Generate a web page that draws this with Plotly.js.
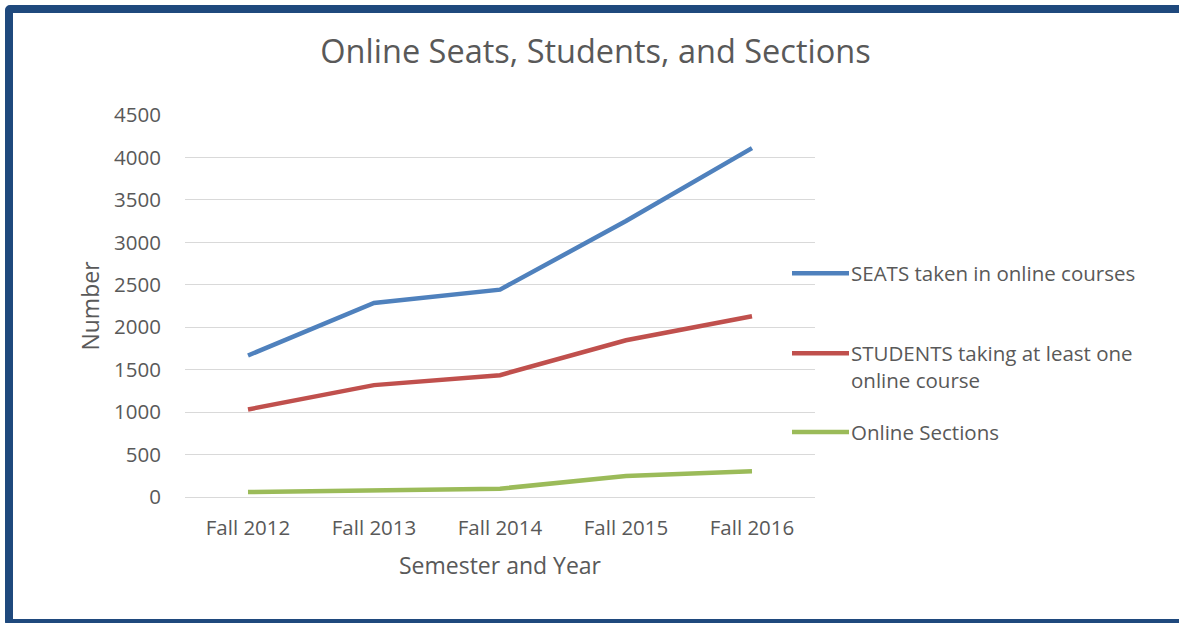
<!DOCTYPE html>
<html>
<head>
<meta charset="utf-8">
<script src="https://cdn.plot.ly/plotly-3.0.1.min.js"></script>
<style>
  html, body { margin:0; padding:0; width:1179px; height:623px; overflow:hidden; background:#fff; }
  #chart { position:absolute; left:0; top:0; width:1179px; height:623px; }
  #frame { position:absolute; left:5px; top:5px; width:1190px; height:606px;
           border:8px solid #1F497D; border-radius:5px; pointer-events:none; }
</style>
</head>
<body>
<div id="chart"></div>
<div id="frame"></div>
<script>
const categories = ["Fall 2012", "Fall 2013", "Fall 2014", "Fall 2015", "Fall 2016"];
const seats    = [1667, 2286, 2443, 3251, 4110];
const students = [1031, 1318, 1435, 1847, 2129];
const sections = [59, 82, 98, 247, 302];
const seriesNames = ["SEATS taken in online courses", "STUDENTS taking at least one<br>online course", "Online Sections"];
const colors = ["#4F81BD", "#C0504D", "#9BBB59"];
const yTicks = [0, 500, 1000, 1500, 2000, 2500, 3000, 3500, 4000, 4500];

const W = 1179, H = 623;
const L = 185, R = 815, T = 114.5, B = 497;
const FONT = "'Open Sans', sans-serif";
const GREY = "#595959";
const px2x = p => (p - L) / (R - L);
const py2y = p => (B - p) / (B - T);

const data = [seats, students, sections].map((vals, i) => ({
  x: categories, y: vals, type: "scatter", mode: "lines",
  name: seriesNames[i].replace("<br>", " "),
  line: { color: colors[i], width: 4.5 },
  showlegend: false, hoverinfo: "x+y+name"
}));

const legendY = [273, 353, 432];
const shapes = legendY.map((py, i) => ({
  type: "line", xref: "paper", yref: "paper",
  x0: px2x(792), x1: px2x(849), y0: py2y(py), y1: py2y(py),
  line: { color: colors[i], width: 4.5 }
}));
const annotations = legendY.map((py, i) => ({
  xref: "paper", yref: "paper", x: px2x(849), y: py2y(py - 16.5),
  xanchor: "left", yanchor: "top", align: "left",
  text: seriesNames[i], showarrow: false,
  font: { family: FONT, size: 20.5, color: GREY }
}));

const layout = {
  width: W, height: H,
  margin: { l: L, r: W - R, t: T, b: H - B, pad: 0 },
  paper_bgcolor: "rgba(0,0,0,0)", plot_bgcolor: "rgba(0,0,0,0)",
  title: { text: "Online Seats, Students, and Sections", xref: "container", yref: "container",
           x: 595.5 / W, y: 1 - 52 / H, xanchor: "center", yanchor: "middle",
           font: { family: FONT, size: 32.5, color: GREY } },
  xaxis: {
    type: "category", tickvals: categories, ticktext: categories, range: [-0.5, 4.5],
    showgrid: false, showline: true, linecolor: "#D9D9D9", linewidth: 1,
    ticks: "", ticklabelstandoff: 12,
    tickfont: { family: FONT, size: 20.5, color: GREY },
    title: { text: "Semester and Year", standoff: 18, font: { family: FONT, size: 23, color: GREY } },
    fixedrange: true
  },
  yaxis: {
    range: [0, 4500], tickvals: yTicks, ticktext: yTicks.map(String),
    showgrid: true, gridcolor: "#D9D9D9", gridwidth: 1, zeroline: false,
    showline: false, ticks: "", ticklabelstandoff: 23,
    tickfont: { family: FONT, size: 20.5, color: GREY },
    title: { text: "Number", standoff: 8, font: { family: FONT, size: 23, color: GREY } },
    fixedrange: true
  },
  shapes: shapes,
  annotations: annotations,
  showlegend: false
};

Plotly.newPlot("chart", data, layout, { displayModeBar: false });
</script>
</body>
</html>
